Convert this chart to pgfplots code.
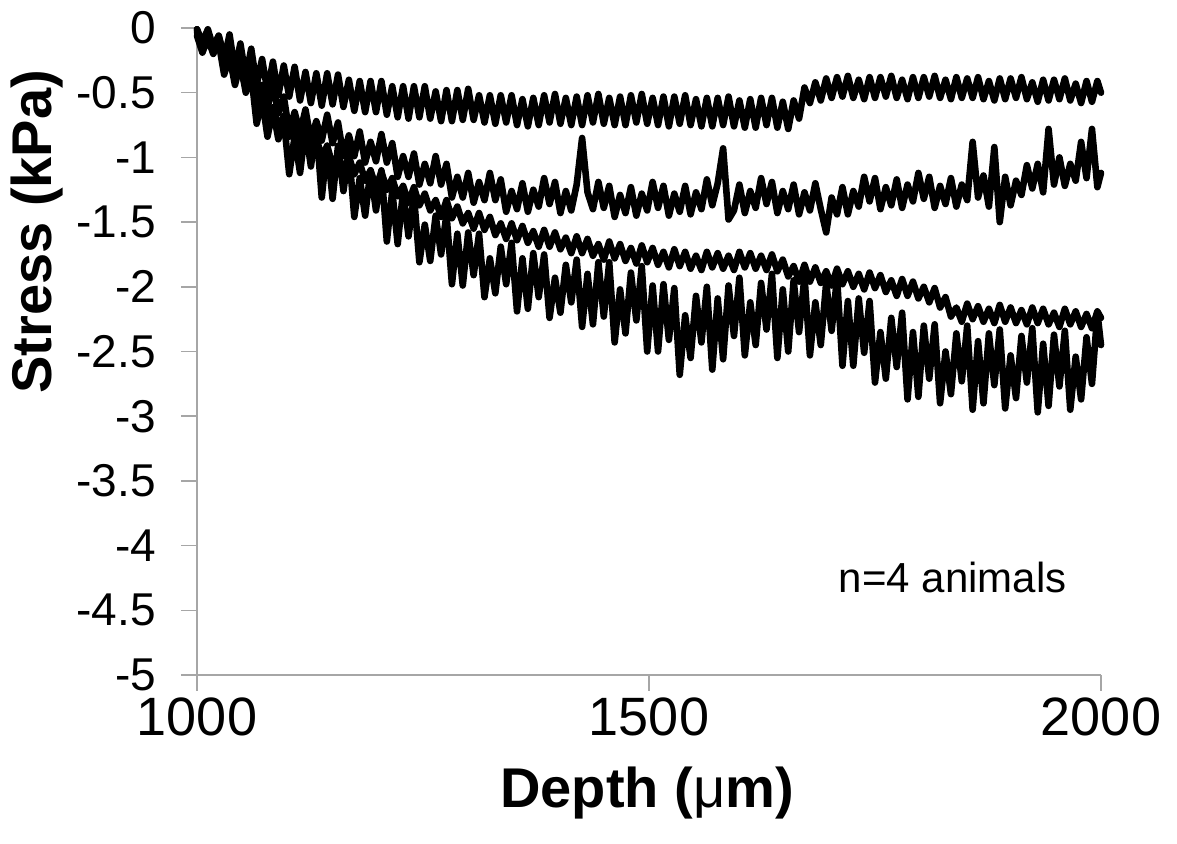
\documentclass[border=0pt]{standalone}
\usepackage{fontspec}
\setmainfont{Liberation Sans}
\usepackage{pgfplots}
\usepackage{pgfplotstable}
\pgfplotsset{compat=1.18}
\definecolor{axgray}{RGB}{166,166,166}
\pgfplotstableread{
x a b c d
1000 -0.01 -0.01 -0.03 -0.06
1006 -0.11 -0.14 -0.15 -0.19
1012 -0.01 -0.07 -0.07 -0.08
1018 -0.15 -0.15 -0.19 -0.20
1024 -0.06 -0.06 -0.11 -0.11
1030 -0.25 -0.21 -0.23 -0.36
1036 -0.05 -0.09 -0.17 -0.22
1042 -0.33 -0.38 -0.35 -0.44
1048 -0.12 -0.26 -0.30 -0.27
1054 -0.38 -0.45 -0.47 -0.50
1060 -0.16 -0.30 -0.38 -0.36
1066 -0.44 -0.57 -0.55 -0.74
1072 -0.24 -0.44 -0.49 -0.55
1078 -0.49 -0.62 -0.66 -0.84
1084 -0.26 -0.43 -0.61 -0.63
1090 -0.52 -0.66 -0.77 -0.86
1096 -0.29 -0.53 -0.68 -0.70
1102 -0.53 -0.80 -0.84 -1.13
1108 -0.30 -0.65 -0.76 -0.84
1114 -0.56 -0.81 -0.90 -1.12
1120 -0.34 -0.63 -0.83 -0.77
1126 -0.58 -0.87 -0.96 -1.07
1132 -0.35 -0.72 -0.85 -0.76
1138 -0.60 -0.87 -1.00 -1.31
1144 -0.35 -0.67 -0.91 -0.91
1150 -0.59 -0.89 -1.06 -1.32
1156 -0.36 -0.73 -0.98 -0.91
1162 -0.61 -0.99 -1.11 -1.26
1168 -0.40 -0.83 -0.99 -0.95
1174 -0.64 -0.99 -1.13 -1.46
1180 -0.41 -0.80 -1.04 -1.16
1186 -0.65 -1.04 -1.18 -1.45
1192 -0.41 -0.88 -1.10 -1.10
1198 -0.65 -1.03 -1.23 -1.41
1204 -0.41 -0.82 -1.11 -1.10
1210 -0.67 -1.04 -1.25 -1.65
1216 -0.45 -0.89 -1.16 -1.26
1222 -0.69 -1.15 -1.30 -1.67
1228 -0.45 -0.99 -1.22 -1.26
1234 -0.70 -1.15 -1.35 -1.61
1240 -0.45 -0.97 -1.23 -1.30
1246 -0.69 -1.21 -1.37 -1.81
1252 -0.45 -1.05 -1.28 -1.52
1258 -0.70 -1.20 -1.41 -1.80
1264 -0.49 -0.99 -1.33 -1.45
1270 -0.72 -1.21 -1.46 -1.75
1276 -0.48 -1.05 -1.33 -1.44
1282 -0.72 -1.31 -1.47 -1.98
1288 -0.48 -1.15 -1.38 -1.59
1294 -0.71 -1.31 -1.51 -1.99
1300 -0.47 -1.12 -1.43 -1.58
1306 -0.71 -1.35 -1.55 -1.91
1312 -0.52 -1.19 -1.43 -1.59
1318 -0.73 -1.33 -1.56 -2.08
1324 -0.52 -1.12 -1.46 -1.78
1330 -0.74 -1.33 -1.60 -2.05
1336 -0.52 -1.17 -1.51 -1.69
1342 -0.73 -1.42 -1.63 -1.98
1348 -0.52 -1.26 -1.51 -1.66
1354 -0.75 -1.40 -1.64 -2.19
1360 -0.55 -1.20 -1.53 -1.78
1366 -0.76 -1.42 -1.66 -2.17
1372 -0.54 -1.25 -1.57 -1.74
1378 -0.75 -1.38 -1.69 -2.08
1384 -0.52 -1.16 -1.56 -1.75
1390 -0.73 -1.36 -1.69 -2.24
1396 -0.51 -1.19 -1.58 -1.93
1402 -0.74 -1.43 -1.71 -2.20
1408 -0.54 -1.26 -1.62 -1.83
1414 -0.75 -1.41 -1.74 -2.12
1420 -0.53 -1.21 -1.61 -1.79
1426 -0.75 -0.85 -1.74 -2.31
1432 -0.52 -1.27 -1.63 -1.90
1438 -0.73 -1.40 -1.76 -2.29
1444 -0.51 -1.19 -1.67 -1.81
1450 -0.74 -1.39 -1.79 -2.23
1456 -0.54 -1.22 -1.65 -1.81
1462 -0.75 -1.46 -1.78 -2.43
1468 -0.53 -1.29 -1.67 -2.02
1474 -0.75 -1.43 -1.80 -2.36
1480 -0.52 -1.23 -1.70 -1.89
1486 -0.73 -1.45 -1.82 -2.26
1492 -0.51 -1.28 -1.68 -1.84
1498 -0.74 -1.41 -1.81 -2.50
1504 -0.54 -1.19 -1.70 -1.99
1510 -0.75 -1.39 -1.83 -2.50
1516 -0.53 -1.22 -1.73 -1.98
1522 -0.76 -1.45 -1.85 -2.41
1528 -0.53 -1.28 -1.71 -2.01
1534 -0.74 -1.42 -1.84 -2.68
1540 -0.52 -1.22 -1.73 -2.22
1546 -0.75 -1.44 -1.86 -2.55
1552 -0.55 -1.27 -1.76 -2.07
1558 -0.76 -1.40 -1.87 -2.43
1564 -0.54 -1.17 -1.73 -2.00
1570 -0.76 -1.37 -1.85 -2.64
1576 -0.54 -1.20 -1.74 -2.09
1582 -0.75 -0.93 -1.86 -2.56
1588 -0.53 -1.48 -1.76 -1.99
1594 -0.76 -1.41 -1.87 -2.38
1600 -0.56 -1.21 -1.73 -1.93
1606 -0.77 -1.43 -1.85 -2.53
1612 -0.55 -1.26 -1.74 -2.12
1618 -0.77 -1.39 -1.86 -2.45
1624 -0.54 -1.16 -1.76 -1.97
1630 -0.75 -1.36 -1.87 -2.33
1636 -0.54 -1.19 -1.75 -1.90
1642 -0.77 -1.43 -1.88 -2.55
1648 -0.57 -1.26 -1.79 -2.02
1654 -0.78 -1.40 -1.92 -2.50
1660 -0.56 -1.21 -1.84 -1.95
1666 -0.70 -1.44 -1.96 -2.35
1672 -0.46 -1.27 -1.83 -1.92
1678 -0.58 -1.41 -1.96 -2.53
1684 -0.42 -1.20 -1.85 -2.12
1690 -0.56 -1.40 -1.97 -2.45
1696 -0.39 -1.58 -1.88 -1.97
1702 -0.54 -1.31 -1.99 -2.34
1708 -0.38 -1.44 -1.86 -1.93
1714 -0.53 -1.23 -1.98 -2.61
1720 -0.37 -1.44 -1.88 -2.11
1726 -0.54 -1.26 -2.00 -2.61
1732 -0.40 -1.38 -1.90 -2.09
1738 -0.55 -1.15 -2.02 -2.51
1744 -0.38 -1.34 -1.89 -2.11
1750 -0.54 -1.16 -2.01 -2.74
1756 -0.38 -1.40 -1.91 -2.35
1762 -0.53 -1.23 -2.04 -2.71
1768 -0.37 -1.37 -1.95 -2.24
1774 -0.54 -1.17 -2.07 -2.62
1780 -0.40 -1.39 -1.94 -2.20
1786 -0.55 -1.21 -2.07 -2.87
1792 -0.38 -1.34 -1.96 -2.35
1798 -0.54 -1.12 -2.09 -2.85
1804 -0.38 -1.32 -2.00 -2.30
1810 -0.53 -1.15 -2.12 -2.71
1816 -0.37 -1.39 -2.01 -2.29
1822 -0.54 -1.22 -2.16 -2.90
1828 -0.40 -1.36 -2.08 -2.50
1834 -0.55 -1.16 -2.23 -2.83
1840 -0.38 -1.38 -2.16 -2.36
1846 -0.54 -1.21 -2.27 -2.73
1852 -0.39 -1.33 -2.13 -2.30
1858 -0.54 -0.88 -2.25 -2.95
1864 -0.38 -1.31 -2.15 -2.42
1870 -0.55 -1.14 -2.27 -2.90
1876 -0.41 -1.38 -2.17 -2.36
1882 -0.56 -0.92 -2.28 -2.76
1888 -0.39 -1.50 -2.14 -2.33
1894 -0.55 -1.15 -2.27 -2.94
1900 -0.39 -1.37 -2.16 -2.53
1906 -0.54 -1.18 -2.28 -2.86
1912 -0.38 -1.29 -2.18 -2.38
1918 -0.55 -1.06 -2.29 -2.74
1924 -0.42 -1.24 -2.16 -2.32
1930 -0.57 -1.05 -2.28 -2.97
1936 -0.40 -1.27 -2.17 -2.44
1942 -0.56 -0.78 -2.29 -2.92
1948 -0.40 -1.21 -2.20 -2.37
1954 -0.55 -1.00 -2.31 -2.77
1960 -0.39 -1.22 -2.17 -2.34
1966 -0.56 -1.05 -2.29 -2.95
1972 -0.43 -1.18 -2.19 -2.54
1978 -0.58 -0.88 -2.31 -2.87
1984 -0.41 -1.16 -2.21 -2.39
1990 -0.57 -0.78 -2.32 -2.75
1996 -0.41 -1.23 -2.19 -2.20
2000 -0.50 -1.12 -2.24 -2.45
}\datatable
\begin{document}
\begin{tikzpicture}
\begin{axis}[
  at={(0,0)}, anchor=south west,
  scale only axis, width=452pt, height=323.5pt,
  xmin=1000, xmax=2000, ymin=-5, ymax=0,
  clip=false,
  axis x line=bottom, axis y line=left,
  axis line style={draw=axgray, line width=0.75pt, -},
  xtick={1000,1500,2000}, xticklabels={1000,1500,2000},
  ytick={-5,-4.5,-4,-3.5,-3,-2.5,-2,-1.5,-1,-0.5,0},
  yticklabels={-5,-4.5,-4,-3.5,-3,-2.5,-2,-1.5,-1,-0.5,0},
  tick align=outside, major tick length=8pt,
  tick style={draw=axgray, line width=0.75pt},
  xticklabel style={font=\fontsize{27}{27}\selectfont},
  yticklabel style={font=\fontsize{23}{23}\selectfont, xshift=-9pt},
  xlabel={\textbf{Depth (}{\mdseries μ}\textbf{m)}},
  ylabel={\textbf{Stress (kPa)}},
  xlabel style={font=\fontsize{28}{28}\selectfont, at={(axis description cs:0.498,-0.182)}, anchor=center},
  ylabel style={font=\fontsize{28}{28}\selectfont, at={(axis description cs:-0.177,0.685)}, anchor=center},
]
\addplot[black, line width=3.3pt, line join=round, line cap=round] table[x=x,y=a]{\datatable};
\addplot[black, line width=3.3pt, line join=round, line cap=round] table[x=x,y=b]{\datatable};
\addplot[black, line width=3.3pt, line join=round, line cap=round] table[x=x,y=c]{\datatable};
\addplot[black, line width=3.3pt, line join=round, line cap=round] table[x=x,y=d]{\datatable};
\node[font=\fontsize{21}{21}\selectfont] at (axis description cs:0.836,0.151) {n=4 animals};
\end{axis}
\pgfresetboundingbox
\path (-98.5pt,-84.5pt) rectangle (490pt,337.5pt);
\end{tikzpicture}
\end{document}
